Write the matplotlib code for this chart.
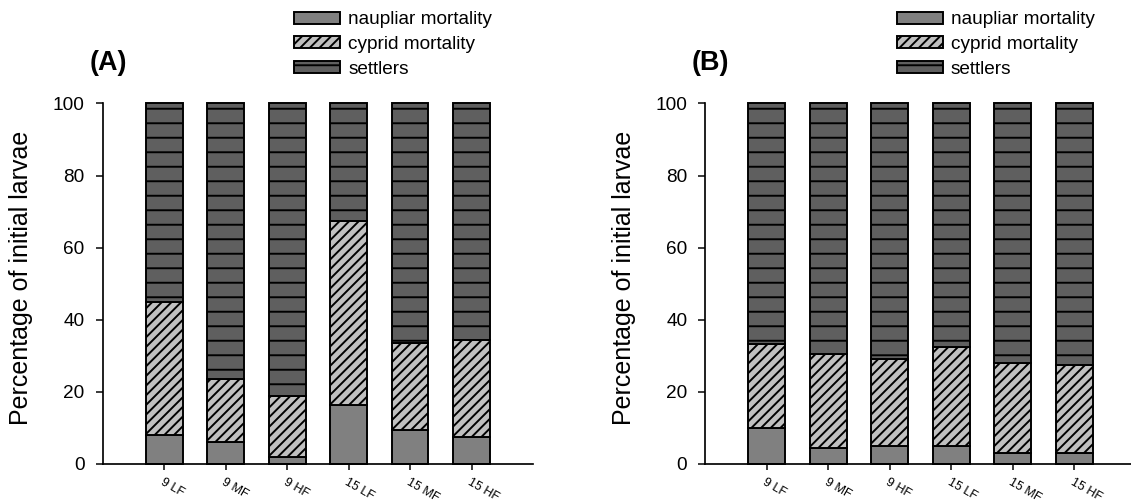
import numpy as np
import matplotlib
matplotlib.use("Agg")
import matplotlib.pyplot as plt

# ---- data -------------------------------------------------------------
categories = ["9 LF", "9 MF", "9 HF", "15 LF", "15 MF", "15 HF"]

# Panel A
naupliar_A = [8.0, 6.0, 2.0, 16.5, 9.5, 7.5]
cyprid_A = [37.0, 17.5, 17.0, 51.0, 24.0, 26.8]      # stacked on naupliar
settlers_A = [55.0, 76.5, 81.0, 32.5, 66.5, 65.7]

# Panel B
naupliar_B = [10.0, 4.5, 5.0, 5.0, 3.0, 3.0]
cyprid_B = [23.4, 26.0, 24.0, 27.5, 25.0, 24.5]
settlers_B = [66.6, 69.5, 71.0, 67.5, 72.0, 72.5]

series_labels = ["naupliar mortality", "cyprid mortality", "settlers"]
panel_titles = ["(A)", "(B)"]
ylabel = "Percentage of initial larvae"
yticks = [0, 20, 40, 60, 80, 100]

# ---- style ------------------------------------------------------------
DPI = 87
W, H = 1131, 502
PT = 72.0 / DPI  # px -> pt

plt.rcParams["font.family"] = ["Liberation Sans", "DejaVu Sans"]
plt.rcParams["hatch.linewidth"] = 1.6
plt.rcParams["hatch.color"] = "black"

col_naup = "#808080"
col_cyp = "#c0c0c0"
col_set = "#5f5f5f"

fig = plt.figure(figsize=(W / DPI, H / DPI), dpi=DPI)

ax_w = 430.3 / W
ax_bottom = 1 - 464 / H
ax_h = (464 - 103.5) / H
lefts = [102.7 / W, 705.3 / W]

data = [(naupliar_A, cyprid_A, settlers_A), (naupliar_B, cyprid_B, settlers_B)]
x = np.arange(1, len(categories) + 1)

for i, (naup, cyp, sett) in enumerate(data):
    ax = fig.add_axes([lefts[i], ax_bottom, ax_w, ax_h])
    naup = np.array(naup)
    cyp = np.array(cyp)
    sett = np.array(sett)
    kw = dict(width=0.6, edgecolor="black", linewidth=1.6, clip_on=False)
    b1 = ax.bar(x, naup, color=col_naup, label=series_labels[0], **kw)
    b2 = ax.bar(x, cyp, bottom=naup, color=col_cyp, hatch="///",
                label=series_labels[1], **kw)
    b3 = ax.bar(x, sett, bottom=naup + cyp, color=col_set, hatch="-",
                label=series_labels[2], **kw)

    ax.set_xlim(0, 7)
    ax.set_ylim(0, 100)
    ax.set_yticks(yticks)
    ax.set_xticks(x)
    ax.set_xticklabels(categories, rotation=-30, ha="left", va="top",
                       rotation_mode="anchor", fontsize=12.5 * PT)
    for s in ["top", "right"]:
        ax.spines[s].set_visible(False)
    for s in ["left", "bottom"]:
        ax.spines[s].set_linewidth(1.7 * PT)
        ax.spines[s].set_color("black")
    ax.tick_params(axis="y", direction="out", length=7 * PT, width=1.5 * PT,
                   pad=11 * PT, labelsize=19 * PT)
    ax.tick_params(axis="x", direction="out", length=6 * PT, width=1.5 * PT,
                   pad=6 * PT)

    # y label
    fig.text((lefts[i] * W - 81.4) / W, 1 - 278 / H, ylabel,
             rotation=90, ha="center", va="center", fontsize=25 * PT)
    # panel title
    fig.text((lefts[i] * W - 13.4) / W, 1 - 63.5 / H, panel_titles[i],
             ha="left", va="center", fontsize=27 * PT, fontweight="bold")
    # legend
    ax.legend(handles=[b1, b2, b3], loc="upper left",
              bbox_to_anchor=((lefts[i] * W + 191.5) / W, 1 - 11.5 / H),
              bbox_transform=fig.transFigure, frameon=False,
              borderpad=0, borderaxespad=0, fontsize=19 * PT,
              handlelength=2.42, handleheight=0.58,
              handletextpad=0.42, labelspacing=0.40)

fig.savefig("out.png", dpi=DPI)
